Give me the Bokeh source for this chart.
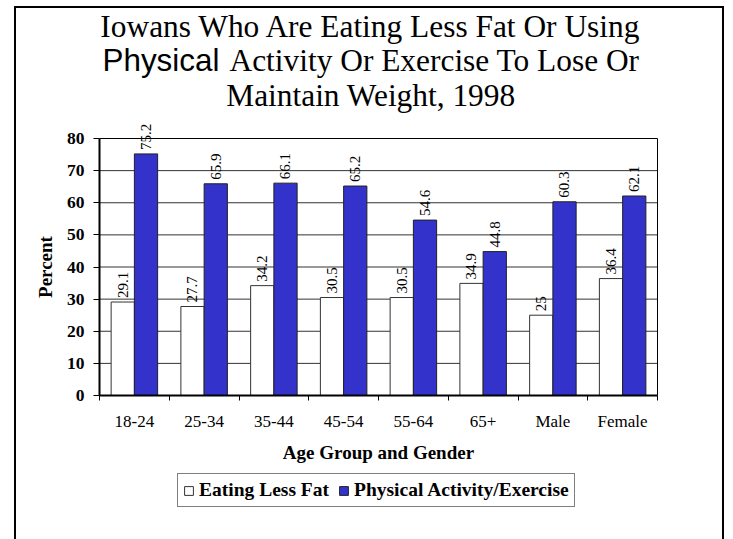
import numpy as np
from bokeh.plotting import figure
from bokeh.models import (Range1d, FixedTicker, Legend, LegendItem, LabelSet, Label,
                          ColumnDataSource)
from bokeh.embed import file_html
from bokeh.resources import INLINE

# ---- data ----
categories = ["18-24", "25-34", "35-44", "45-54", "55-64", "65+", "Male", "Female"]
eating_less_fat = [29.1, 27.7, 34.2, 30.5, 30.5, 34.9, 25, 36.4]
physical_activity = [75.2, 65.9, 66.1, 65.2, 54.6, 44.8, 60.3, 62.1]
y_ticks = [0, 10, 20, 30, 40, 50, 60, 70, 80]
series_names = ["Eating Less Fat", "Physical Activity/Exercise"]
series_colors = ["#FFFFFF", "#3333CC"]
title_line1 = "Iowans Who Are Eating Less Fat Or Using"
title_line2a = "Physical"
title_line2b = "Activity Or Exercise To Lose Or"
title_line3 = "Maintain Weight, 1998"
x_title = "Age Group and Gender"
y_title = "Percent"

SERIF = "Liberation Serif"
SANS = "Liberation Sans"

n = len(categories)
ymax = y_ticks[-1]

# ---- layout: the frame covers the whole canvas; axes are drawn at fixed
# locations so that titles, value labels and legend are never clipped ----
W, H = 706, 531
PAGE_X0, PAGE_Y0 = 16, 8             # where the canvas sits on the page
PLOT_L, PLOT_R = 99, 657             # page px of x = 0 and x = n
PLOT_T, PLOT_B = 138, 395            # page px of y = ymax and y = 0
kx = (PLOT_R - PLOT_L) / n
ky = (PLOT_B - PLOT_T) / ymax
x_start = -(PLOT_L - PAGE_X0) / kx
x_end = x_start + W / kx
y_end = (PLOT_B - PAGE_Y0) / ky
y_start = y_end - H / ky

p = figure(width=W, height=H, output_backend="svg", toolbar_location=None,
           x_range=Range1d(x_start, x_end), y_range=Range1d(y_start, y_end),
           min_border=0, min_border_left=0, min_border_right=0,
           min_border_top=0, min_border_bottom=0,
           background_fill_color="white", border_fill_color="white")
p.title.visible = False
p.outline_line_color = None
p.styles = {"margin-left": f"{PAGE_X0}px", "margin-top": f"{PAGE_Y0}px",
            "outline": "2px solid black"}
p.xgrid.visible = False
p.ygrid.visible = False

xc = np.arange(n) + 0.5
bw = 1.0 / 3.0
src = ColumnDataSource(dict(
    x1=xc - bw / 2, x2=xc + bw / 2,
    a=eating_less_fat, b=physical_activity,
    la=[f"{v:g}" for v in eating_less_fat],
    lb=[f"{v:g}" for v in physical_activity],
))

# grid lines (0..n only) and the right / top edges of the plot box
gy = y_ticks[1:]
p.segment(x0=[0] * len(gy), x1=[n] * len(gy), y0=gy, y1=gy,
          line_color=["#333333"] * (len(gy) - 1) + ["black"], line_width=1)
p.segment(x0=[n], x1=[n], y0=[0], y1=[ymax], line_color="black", line_width=1)

r1 = p.vbar(x="x1", top="a", bottom=0, width=bw, source=src,
            fill_color=series_colors[0], line_color="#333333", line_width=1)
r2 = p.vbar(x="x2", top="b", bottom=0, width=bw, source=src,
            fill_color=series_colors[1], line_color="#222222", line_width=1)

for col, lab, ycol in (("x1", "la", "a"), ("x2", "lb", "b")):
    ls = LabelSet(x=col, y=ycol, text=lab, source=src, angle=np.pi / 2,
                  text_align="left", text_baseline="middle", y_offset=4,
                  text_font=SERIF, text_font_size="15px", text_color="black")
    p.add_layout(ls)

# ---- axes ----
xax = p.xaxis[0]
xax.fixed_location = 0
xax.bounds = (0, n)
xax.ticker = FixedTicker(ticks=list(xc), minor_ticks=list(range(n + 1)))
xax.major_label_overrides = {float(x): c for x, c in zip(xc, categories)}
xax.major_tick_out = 0
xax.major_tick_in = 0
xax.minor_tick_out = 5
xax.minor_tick_in = 0
xax.minor_tick_line_color = "black"
xax.axis_line_width = 2
xax.axis_line_color = "black"
xax.major_label_text_font = SERIF
xax.major_label_text_font_size = "17px"
xax.major_label_text_color = "black"
xax.major_label_standoff = 11
xax.axis_label = x_title
xax.axis_label_text_font = SERIF
xax.axis_label_text_font_style = "bold"
xax.axis_label_text_font_size = "19px"
xax.axis_label_text_color = "black"
xax.axis_label_standoff = 8

yax = p.yaxis[0]
yax.fixed_location = 0
yax.bounds = (0, ymax)
yax.ticker = FixedTicker(ticks=y_ticks, minor_ticks=[])
yax.major_tick_out = 6
yax.major_tick_in = 0
yax.major_tick_line_color = "black"
yax.axis_line_width = 2
yax.axis_line_color = "black"
yax.major_label_text_font = SERIF
yax.major_label_text_font_style = "bold"
yax.major_label_text_font_size = "17.5px"
yax.major_label_text_color = "black"
yax.major_label_standoff = 9
yax.axis_label = y_title
yax.axis_label_text_font = SERIF
yax.axis_label_text_font_style = "bold"
yax.axis_label_text_font_size = "19px"
yax.axis_label_text_color = "black"
yax.axis_label_standoff = 8

# ---- legend (frame-relative screen coords: bottom-left corner) ----
legend = Legend(items=[LegendItem(label=series_names[0], renderers=[r1]),
                       LegendItem(label=series_names[1], renderers=[r2])],
                orientation="horizontal", location=(177 - PAGE_X0, (PAGE_Y0 + H) - 507))
legend.label_text_font = SERIF
legend.label_text_font_style = "bold"
legend.label_text_font_size = "19.5px"
legend.label_text_color = "black"
legend.glyph_width = 11
legend.glyph_height = 11
legend.label_standoff = 5
legend.spacing = 9
legend.padding = 5
legend.margin = 0
legend.border_line_color = "black"
legend.border_line_width = 1
legend.background_fill_alpha = 1
p.add_layout(legend, "center")

# ---- title ----
def dx(px):
    return (px - PLOT_L) / kx

def dy(py):
    return (PLOT_B - py) / ky

tcx = dx(370.5)
for txt, x, yb, font, align in (
        (title_line1, tcx, 26, SERIF, "center"),
        (title_line2a, dx(102), 60, SANS, "left"),
        (title_line2b, dx(229), 60, SERIF, "left"),
        (title_line3, tcx, 95, SERIF, "center")):
    p.add_layout(Label(x=x, y=dy(yb), text=txt, text_align=align,
                       text_baseline="alphabetic", text_font=font,
                       text_font_size="31.4px", text_color="black"))

open("out.html", "w").write(file_html(p, INLINE))
